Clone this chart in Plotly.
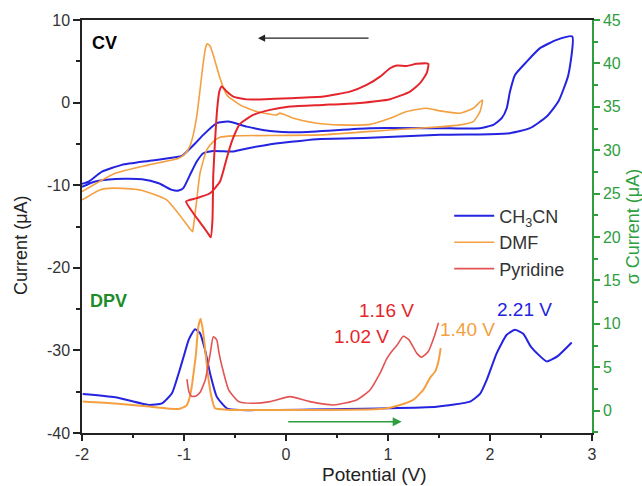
import plotly.graph_objects as go

# ---------------- CV data (left axis, Current / uA) ----------------
cv_ch3cn_x = [-2.0, -1.934, -1.804, -1.608, -1.346, -1.085, -1.02, -0.889, -0.811, -0.679, -0.566,
              -0.385, -0.157, 0.137, 0.824, 1.608, 1.902, 2.032, 2.115, 2.164, 2.196, 2.245, 2.36,
              2.49, 2.654, 2.807, 2.768, 2.67, 2.556, 2.392, 2.196, 2.0, 1.51, 0.824, 0.30, -0.189,
              -0.451, -0.517, -0.713, -0.811, -0.875, -0.941, -1.007, -1.052, -1.118, -1.248,
              -1.412, -1.674, -1.87, -2.0]
cv_ch3cn_y = [-9.84, -9.56, -8.35, -7.54, -7.06, -6.61, -6.45, -4.92, -3.91, -2.49, -2.30,
              -2.91, -3.43, -3.58, -3.10, -3.12, -3.10, -2.70, -1.89, -0.68, 1.33, 3.35, 4.96,
              6.59, 7.59, 7.99, 3.35, 0.12, -1.69, -3.10, -3.70, -3.83, -3.89, -4.27, -4.43, -5.12,
              -5.73, -5.93, -5.85, -6.13, -7.14, -8.75, -10.36, -10.65, -10.57, -9.76,
              -9.27, -9.24, -9.56, -10.2]

cv_dmf_x = [-2.0, -1.674, -1.346, -1.052, -0.99, -0.941, -0.912, -0.873, -0.843, -0.814, -0.789,
            -0.772, -0.745, -0.713, -0.647, -0.581, -0.451, -0.287, -0.091, -0.059, 0.072, 0.301,
            0.529, 0.824, 1.02, 1.183, 1.379, 1.51, 1.706, 1.836, 1.926, 1.902, 1.836, 1.706,
            1.51, 1.02, 0.333, -0.517, -0.647, -0.713, -0.777, -0.843, -0.875, -0.909, -0.915,
            -0.941, -1.007, -1.17, -1.431, -1.693, -1.824, -2.0]
cv_dmf_y = [-10.77, -8.55, -7.54, -6.73, -6.21, -5.24, -4.03, -1.49, 1.54, 4.56, 6.62,
            7.11, 6.86, 5.77, 2.95, 0.93, -0.28, -1.09, -1.49, -1.28, -1.89, -2.49,
            -2.70, -2.64, -1.89, -1.09, -0.68, -1.00, -1.28, -0.68, 0.33, -1.09, -2.30, -2.70,
            -2.94, -3.31, -3.91, -4.03, -4.19, -4.72, -5.73, -8.55, -11.78, -15.17, -15.62,
            -15.29, -14.2, -11.78, -10.57, -10.36, -10.57, -11.78]

cv_pyr_x = [-0.98, -0.909, -0.811, -0.755, -0.738, -0.721, -0.713, -0.696, -0.674, -0.654, -0.63,
            -0.581, -0.517, -0.385, -0.255, 0.039, 0.366, 0.627, 0.791, 0.922, 1.02, 1.085,
            1.183, 1.281, 1.395, 1.379, 1.314, 1.216, 1.02, 0.693, 0.366, 0.039, -0.157,
            -0.321, -0.451, -0.532, -0.581, -0.647, -0.745, -0.875, -0.98]
cv_pyr_y = [-11.96, -13.39, -15.01, -16.02, -16.3, -14.2, -8.75, -4.72, -0.68, 1.33, 1.96,
            1.33, 0.73, 0.39, 0.39, 0.53, 0.73, 1.33, 2.14, 3.15, 4.16, 4.48,
            4.44, 4.69, 4.69, 3.56, 2.35, 1.33, 0.41, -0.07, -0.28, -0.48, -0.88,
            -1.49, -2.58, -4.72, -6.73, -9.56, -10.97, -11.57, -11.96]

# ---------------- DPV data (right axis, sigma Current / uA) ----------------
dpv_ch3cn_x = [-1.993, -1.674, -1.346, -1.216, -1.118, -1.052, -1.003, -0.954, -0.892, -0.843,
               -0.794, -0.745, -0.679, -0.581, -0.451, 0.987, 1.477, 1.804, 1.902, 1.968,
               2.066, 2.164, 2.245, 2.326, 2.402, 2.556, 2.667, 2.801]
dpv_ch3cn_y = [1.93, 1.55, 0.66, 0.85, 2.01, 4.32, 6.24, 8.16, 9.38, 8.94,
               7.01, 4.32, 1.62, 0.28, 0.08, 0.28, 0.46, 1.04, 1.93, 3.55,
               6.63, 8.74, 9.32, 8.86, 7.36, 5.68, 6.32, 7.85]

dpv_dmf_x = [-1.993, -1.674, -1.346, -1.052, -0.98, -0.951, -0.924, -0.902, -0.882, -0.86,
             -0.836, -0.811, -0.789, -0.765, -0.735, -0.696, -0.581, 0.954, 1.118, 1.248,
             1.346, 1.412, 1.461, 1.493, 1.517]
dpv_dmf_y = [1.06, 0.83, 0.48, 0.20, 0.54, 1.24, 2.77, 4.70, 6.63, 9.66,
             10.59, 8.94, 6.63, 4.12, 1.81, 0.28, 0.12, 0.23, 0.66, 1.24,
             2.39, 3.78, 4.50, 5.62, 7.21]

dpv_pyr_x = [-0.971, -0.951, -0.922, -0.882, -0.84, -0.791, -0.765, -0.742, -0.713, -0.679,
             -0.657, -0.627, -0.562, -0.464, -0.333, -0.157, 0.039, 0.235, 0.464, 0.693,
             0.824, 0.922, 0.987, 1.036, 1.088, 1.15, 1.206, 1.281, 1.33, 1.395, 1.451, 1.495]
dpv_pyr_y = [3.63, 2.16, 1.64, 1.70, 2.16, 3.55, 5.16, 6.63, 8.51, 8.16,
             6.66, 5.08, 2.39, 1.04, 0.85, 1.04, 1.62, 1.04, 0.66, 1.24,
             2.39, 4.32, 5.97, 6.81, 7.53, 8.57, 8.16, 6.63, 6.17, 6.81, 8.45, 10.13]

series_names = ["CH<sub>3</sub>CN", "DMF", "Pyridine"]
peak_labels = ["1.16 V", "1.02 V", "1.40 V", "2.21 V"]

x_ticks = [-2, -1, 0, 1, 2, 3]
x_ticktext = ["-2", "-1", "0", "1", "2", "3"]
y_ticks = [-40, -30, -20, -10, 0, 10]
y_ticktext = ["-40", "-30", "-20", "-10", "0", "10"]
y2_ticks = [0, 5, 10, 15, 20, 25, 30, 35, 40, 45]

BLUE = "#2323e0"
ORANGE = "#f4a040"
RED = "#e4262c"
RED_DPV = "#e25454"
GREEN = "#2e9e3e"
FONT = "Arial, Liberation Sans, sans-serif"

fig = go.Figure()
sm = 0.5
fig.add_trace(go.Scatter(x=cv_ch3cn_x, y=cv_ch3cn_y, mode="lines", name=series_names[0],
                         line=dict(color=BLUE, width=2, shape="spline", smoothing=sm), legendrank=1))
fig.add_trace(go.Scatter(x=cv_dmf_x, y=cv_dmf_y, mode="lines", name=series_names[1],
                         line=dict(color=ORANGE, width=1.6, shape="spline", smoothing=sm), legendrank=2))
fig.add_trace(go.Scatter(x=cv_pyr_x, y=cv_pyr_y, mode="lines", name=series_names[2], showlegend=False,
                         line=dict(color=RED, width=2, shape="spline", smoothing=sm)))
fig.add_trace(go.Scatter(x=dpv_ch3cn_x, y=dpv_ch3cn_y, mode="lines", yaxis="y2", showlegend=False,
                         line=dict(color=BLUE, width=2, shape="spline", smoothing=sm)))
fig.add_trace(go.Scatter(x=dpv_dmf_x, y=dpv_dmf_y, mode="lines", yaxis="y2", showlegend=False,
                         line=dict(color=ORANGE, width=2, shape="spline", smoothing=sm)))
fig.add_trace(go.Scatter(x=dpv_pyr_x, y=dpv_pyr_y, mode="lines", yaxis="y2", name=series_names[2],
                         line=dict(color=RED_DPV, width=1.6, shape="spline", smoothing=sm), legendrank=3))

annotations = [
    dict(x=-1.775, y=7.2, xref="x", yref="y", text="<b>CV</b>", showarrow=False,
         font=dict(size=18, color="black", family=FONT)),
    dict(x=-1.74, y=12.67, xref="x", yref="y2", text="<b>DPV</b>", showarrow=False,
         font=dict(size=18, color="#1e8c2a", family=FONT)),
    dict(x=0.99, y=11.5, xref="x", yref="y2", text=peak_labels[0], showarrow=False,
         font=dict(size=19, color=RED, family=FONT)),
    dict(x=0.74, y=8.55, xref="x", yref="y2", text=peak_labels[1], showarrow=False,
         font=dict(size=19, color=RED, family=FONT)),
    dict(x=1.775, y=9.3, xref="x", yref="y2", text=peak_labels[2], showarrow=False,
         font=dict(size=19, color=ORANGE, family=FONT)),
    dict(x=2.34, y=11.7, xref="x", yref="y2", text=peak_labels[3], showarrow=False,
         font=dict(size=19, color=BLUE, family=FONT)),
    # scan direction arrows
    dict(x=-0.275, y=7.8, ax=0.824, ay=7.8, xref="x", yref="y", axref="x", ayref="y",
         showarrow=True, arrowhead=2, arrowsize=1.2, arrowwidth=1.2, arrowcolor="#222", text=""),
    dict(x=1.134, y=-1.27, ax=0.007, ay=-1.27, xref="x", yref="y2", axref="x", ayref="y2",
         showarrow=True, arrowhead=2, arrowsize=1.2, arrowwidth=1.5, arrowcolor=GREEN, text=""),
    # axis titles
    dict(x=-0.12, y=0.455, xref="paper", yref="paper", text="Current (\u03bcA)", textangle=-90,
         xanchor="center", yanchor="middle",
         showarrow=False, font=dict(size=18, color="#222", family=FONT)),
    dict(x=1.08, y=0.5, xref="paper", yref="paper", text="\u03c3 Current (\u03bcA)", textangle=-90,
         xanchor="center", yanchor="middle",
         showarrow=False, font=dict(size=18, color=GREEN, family=FONT)),
    dict(x=0.5745, y=-0.1005, xref="paper", yref="paper", text="Potential (V)",
         xanchor="center", yanchor="middle",
         showarrow=False, font=dict(size=19, color="#222", family=FONT)),
]

fig.update_layout(
    width=642, height=486,
    margin=dict(l=82, r=50, t=20, b=53, autoexpand=False),
    paper_bgcolor="white", plot_bgcolor="white",
    font=dict(family=FONT, size=16, color="#333"),
    showlegend=True,
    legend=dict(x=0.72, y=0.57, xanchor="left", yanchor="top", bgcolor="rgba(0,0,0,0)",
                font=dict(size=18, color="#333", family=FONT), itemwidth=40,
                tracegroupgap=0),
    xaxis=dict(range=[-2, 3], tickvals=x_ticks, ticktext=x_ticktext, ticks="outside", ticklen=6,
               tickwidth=1.5, tickcolor="#222", showline=True, linecolor="#222", linewidth=1.5,
               mirror=True, showgrid=False, zeroline=False,
               minor=dict(dtick=0.5, ticks="outside", ticklen=3, tickwidth=1.5, tickcolor="#222"),
               tickfont=dict(size=16, color="#333")),
    yaxis=dict(range=[-40, 10], tickvals=y_ticks, ticktext=y_ticktext, ticks="outside", ticklen=7,
               tickwidth=1.5, tickcolor="#222", showline=True, linecolor="#222", linewidth=1.5,
               showgrid=False, zeroline=False,
               minor=dict(dtick=5, ticks="outside", ticklen=4, tickwidth=1.5, tickcolor="#222"),
               tickfont=dict(size=16, color="#333")),
    yaxis2=dict(range=[-2.57, 45], overlaying="y", side="right", tickvals=y2_ticks,
                ticks="outside", ticklen=6, tickwidth=1.5, tickcolor=GREEN, showline=True,
                linecolor=GREEN, linewidth=1.5, showgrid=False, zeroline=False,
                minor=dict(tick0=0, dtick=2.5, ticks="outside", ticklen=4, tickwidth=1.5,
                           tickcolor=GREEN),
                tickfont=dict(size=16, color=GREEN)),
    annotations=annotations,
)

fig.write_html("out.html", config={"displayModeBar": False},
               post_script="document.body.style.margin='0px';")
